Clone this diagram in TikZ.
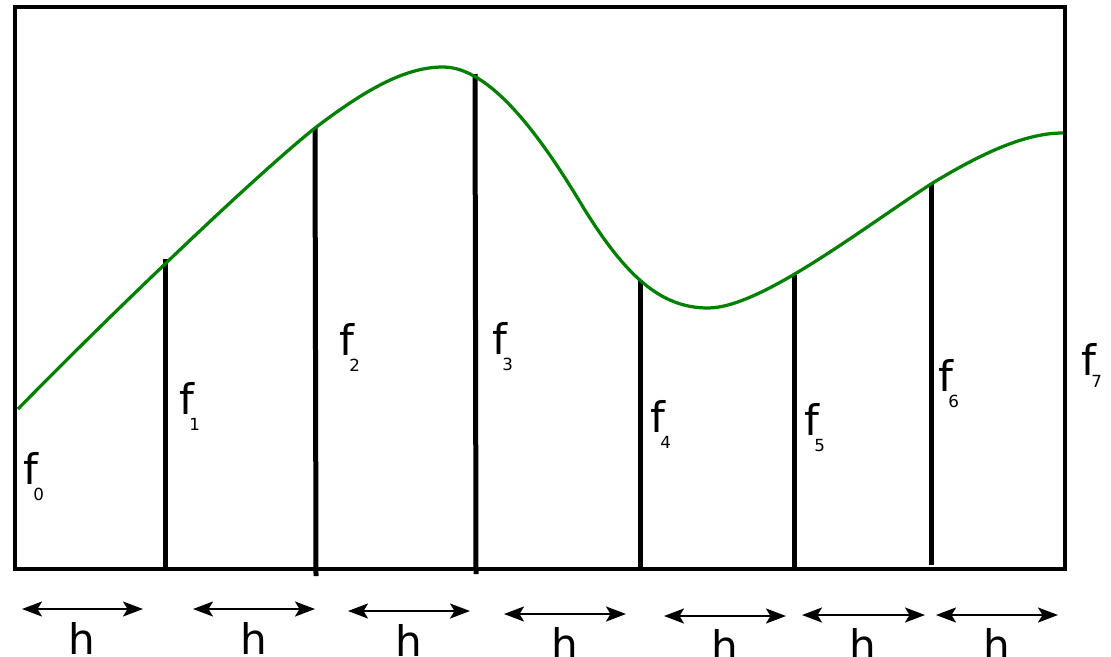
\documentclass[tikz,border=0pt]{standalone}
\usepackage{fontspec}
\setmainfont{DejaVu Sans}
\usepackage{tikz}
\usetikzlibrary{arrows.meta}
\definecolor{curveGreen}{RGB}{0,128,0}

\begin{document}
\begin{tikzpicture}[
    x=0.02cm, y=-0.02cm,
    frame/.style={draw=black, line width=0.065cm},
    ord/.style={draw=black, line width=0.1cm},
    curve/.style={draw=curveGreen, line width=0.065cm},
    flabel/.style={anchor=base west, inner sep=0pt, outer sep=0pt,
                   font=\fontsize{24}{28}\selectfont},
    hlabel/.style={anchor=north, inner sep=0pt, outer sep=0pt,
                   font=\fontsize{24}{28}\selectfont},
    step arr/.style={{Stealth[length=0.4cm, width=0.3cm, inset=0.09cm]}-{Stealth[length=0.4cm, width=0.3cm, inset=0.09cm]},
                   line width=0.045cm, draw=black}
]
\newcommand{\fsub}[2]{f\kern-2.5pt\raisebox{#2}{\fontsize{9.5}{11}\selectfont #1}}
\useasboundingbox (0,0) rectangle (1111,656);

% --- Frame of the plot area.
\coordinate (boxNW) at (15,7);
\coordinate (boxSE) at (1065,569);
\draw[frame] (boxNW) rectangle (boxSE);

% --- Ordinates f1 ... f6 (bottom and top ends).
\coordinate (o1b) at (165,567);  \coordinate (o1t) at (165,259);
\coordinate (o2b) at (316,576);  \coordinate (o2t) at (315,128);
\coordinate (o3b) at (476,574);  \coordinate (o3t) at (475,74);
\coordinate (o4b) at (640,570);  \coordinate (o4t) at (640,280);
\coordinate (o5b) at (794,568);  \coordinate (o5t) at (794,275);
\coordinate (o6b) at (931,565);  \coordinate (o6t) at (931,184);

\draw[ord] (o1b) -- (o1t);
\draw[ord] (o2b) -- (o2t);
\draw[ord] (o3b) -- (o3t);
\draw[ord] (o4b) -- (o4t);
\draw[ord] (o5b) -- (o5t);
\draw[ord] (o6b) -- (o6t);

% --- The function curve: rise, peak, dip, second rise.
\draw[curve] (18,409)
    .. controls (100,325) and (250,180) .. (315,128)
    .. controls (365,90)  and (405,67)  .. (443,67)
    .. controls (490,67)  and (540,135) .. (583,207)
    .. controls (625,275) and (660,308) .. (708,308)
    .. controls (760,308) and (860,230) .. (931,184)
    .. controls (990,148) and (1030,133) .. (1063,133);

% --- Ordinate labels.
\node[flabel] (f0) at (23,484)   {\fsub{0}{-9.5pt}};
\node[flabel] (f1) at (179,414)  {\fsub{1}{-9.5pt}};
\node[flabel] (f2) at (339,355)  {\fsub{2}{-9.5pt}};
\node[flabel] (f3) at (492,354)  {\fsub{3}{-9.5pt}};
\node[flabel] (f4) at (650,432)  {\fsub{4}{-9.5pt}};
\node[flabel] (f5) at (804,435)  {\fsub{5}{-9.5pt}};
\node[flabel] (f6) at (938,391)  {\fsub{6}{-9.5pt}};
\node[flabel] (f7) at (1081,375) {\fsub{7}{-7pt}};

% --- Step width arrows below the axis.
\coordinate (a1l) at (22,609);   \coordinate (a1r) at (143,609);
\coordinate (a2l) at (193,609);  \coordinate (a2r) at (315,609);
\coordinate (a3l) at (348,611);  \coordinate (a3r) at (470,611);
\coordinate (a4l) at (504,614);  \coordinate (a4r) at (626,614);
\coordinate (a5l) at (664,616);  \coordinate (a5r) at (786,616);
\coordinate (a6l) at (802,615);  \coordinate (a6r) at (925,615);
\coordinate (a7l) at (936,615);  \coordinate (a7r) at (1058,615);

\draw[step arr] (a1l) -- (a1r);
\draw[step arr] (a2l) -- (a2r);
\draw[step arr] (a3l) -- (a3r);
\draw[step arr] (a4l) -- (a4r);
\draw[step arr] (a5l) -- (a5r);
\draw[step arr] (a6l) -- (a6r);
\draw[step arr] (a7l) -- (a7r);

\node[hlabel] (h1) at (82,622)  {h};
\node[hlabel] (h2) at (254,622) {h};
\node[hlabel] (h3) at (409,624) {h};
\node[hlabel] (h4) at (565,627) {h};
\node[hlabel] (h5) at (725,629) {h};
\node[hlabel] (h6) at (863,628) {h};
\node[hlabel] (h7) at (997,628) {h};

\end{tikzpicture}
\end{document}
